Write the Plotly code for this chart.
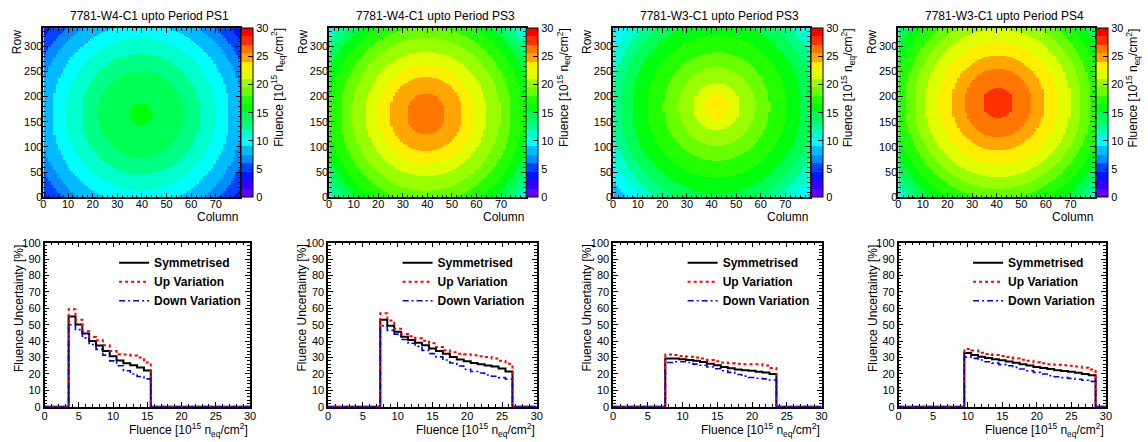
import colorsys
import numpy as np
import plotly.graph_objects as go

# ------------------------------------------------------------------ data
map_titles = ["7781-W4-C1 upto Period PS1", "7781-W4-C1 upto Period PS3",
              "7781-W3-C1 upto Period PS3", "7781-W3-C1 upto Period PS4"]
n_cols, n_rows = 80, 336
col_pitch_mm, row_pitch_mm = 0.25, 0.05

# beam-spot centre (column, row)
centre_col = [39.5, 39.5, 42.0, 40.5]
centre_row = [165, 165, 180, 187]

# fluence [1e15 neq/cm2] at distance [mm] from centre
radius_ps1_w4 = [0, 1.1, 4.3, 6.0, 7.6, 9.0, 10.4, 11.4, 12.5, 13.4]
fluence_ps1_w4 = [15.4, 15.0, 13.5, 12.0, 10.5, 9.0, 7.5, 6.0, 4.5, 3.7]
radius_ps3_w4 = [0, 2.0, 3.7, 4.9, 6.2, 7.6, 8.75, 9.9, 10.8, 11.6, 12.3, 12.9, 13.4]
fluence_ps3_w4 = [26.6, 25.5, 24.0, 22.5, 21.0, 19.5, 18.0, 16.5, 15.0, 13.5, 12.0, 10.5, 7.8]
radius_ps3_w3 = [0, 1.3, 2.35, 3.9, 5.4, 7.1, 8.6, 9.8, 10.8, 11.8, 12.8, 13.9]
fluence_ps3_w3 = [23.2, 22.5, 21.0, 19.5, 18.0, 16.5, 15.0, 13.5, 12.0, 10.5, 9.0, 7.6]
radius_ps4_w3 = [0, 1.5, 3.4, 4.7, 6.1, 7.4, 8.5, 9.5, 10.6, 11.5, 12.3, 13.0, 13.9]
fluence_ps4_w3 = [28.3, 27.0, 25.5, 24.0, 22.5, 21.0, 19.5, 18.0, 16.5, 15.0, 13.5, 12.0, 9.6]

map_radii = [radius_ps1_w4, radius_ps3_w4, radius_ps3_w3, radius_ps4_w3]
map_fluence = [fluence_ps1_w4, fluence_ps3_w4, fluence_ps3_w3, fluence_ps4_w3]

# uncertainty histograms: first non-empty bin centre, then bin contents [%]
first_bin = [4, 8, 8, 10]
sym_ps1_w4 = [55, 50.2, 44.7, 40.1, 37.4, 34, 30.8, 28.2, 26.6, 25.3, 23.9, 22.2]
up_ps1_w4 = [59.5, 53, 46, 42.5, 40.5, 37.5, 34, 32, 31.8, 31.3, 30, 27]
down_ps1_w4 = [50, 47, 42, 38, 35, 31.5, 28, 25, 22, 20, 18.5, 17]

sym_ps3_w4 = [53, 49.4, 45.7, 42.7, 40.7, 39.1, 37.5, 35.6, 34, 32.4, 30.4, 28.9, 27.7,
              26.7, 25.9, 25.1, 24.5, 23.3, 21.5]
up_ps3_w4 = [57, 52.6, 47.6, 44.3, 43, 41.7, 40.3, 38.7, 36.4, 34.4, 33.2, 32.4, 32,
             31.4, 30.8, 30.4, 29.4, 28, 26.3]
down_ps3_w4 = [49.4, 46.6, 44.3, 41, 38.7, 36.8, 34.4, 32.4, 30.4, 28.5, 26.7, 24.9, 22.9,
               21.5, 20.6, 19.4, 18.6, 17.8, 16.8]

sym_ps3_w3 = [29.4, 29.4, 29, 28.5, 28, 27.3, 26.3, 25.3, 24.3, 23.5, 22.8, 22.3, 21.9,
              21.4, 20.9, 20]
up_ps3_w3 = [31.8, 31.5, 31, 30.5, 30, 29.4, 28.5, 27.7, 27, 26.5, 26.2, 26, 26, 26,
             25.2, 23.7]
down_ps3_w3 = [27, 27.5, 27.5, 27, 26, 25.3, 24.3, 23.2, 22, 21, 19.7, 18.7, 17.9, 17.4,
               17, 16.3]

sym_ps4_w3 = [32.8, 31.5, 30.5, 29.8, 29, 28.4, 27.6, 26.8, 26, 25.1, 24.3, 23.6, 23,
              22.3, 21.8, 21.3, 20.7, 20, 19.2]
up_ps4_w3 = [35.3, 34.3, 33, 32.2, 31.5, 31, 30.3, 29.5, 28.7, 28, 27.2, 26.5, 26, 25.6,
             25.3, 25, 24.6, 23.8, 22.7]
down_ps4_w3 = [30.3, 29.5, 28.5, 27.5, 26.6, 25.7, 25, 24, 23, 22, 21, 20, 19, 18.3,
               17.8, 17.3, 16.8, 16.2, 15.5]

hist_sym = [sym_ps1_w4, sym_ps3_w4, sym_ps3_w3, sym_ps4_w3]
hist_up = [up_ps1_w4, up_ps3_w4, up_ps3_w3, up_ps4_w3]
hist_down = [down_ps1_w4, down_ps3_w4, down_ps3_w3, down_ps4_w3]
series_names = ["Symmetrised", "Up Variation", "Down Variation"]

map_xticks = [0, 10, 20, 30, 40, 50, 60, 70]
map_yticks = [0, 50, 100, 150, 200, 250, 300]

# ------------------------------------------------------------------ style / geometry
W, H = 1148, 442
FONT = "Liberation Sans, Arial, Helvetica, sans-serif"
map_x = [(40.7, 239.3), (328.7, 526.7), (615.0, 813.3), (902.3, 1100.7)]
map_y = (22.7, 196.7)
cbar_w = 12
hist_x = [(42.0, 249.0), (327.7, 538.0), (615.0, 825.0), (902.7, 1111.7)]
hist_y = (243.3, 412.0)
UNIT = "Fluence [10<sup>15</sup> n<sub>eq</sub>/cm<sup>2</sup>]"


def px(x):
    return x / W


def py(y):
    return 1 - y / H


# ROOT "pretty" palette, 20 contours between 0 and 30
n_cont, zmin, zmax = 20, 0.0, 30.0
colorscale = []
for k in range(n_cont):
    idx = min(int((k + 0.99) * 50 / n_cont), 49)
    hue = 280 - (idx + 1) * 5.6
    r, g, b = colorsys.hls_to_rgb(max(hue, 0) / 360.0, 0.5, 1.0)
    c = f"rgb({int(round(r*255))},{int(round(g*255))},{int(round(b*255))})"
    colorscale.append([k / n_cont, c])
    colorscale.append([(k + 1) / n_cont, c])

fig = go.Figure()
annotations = []
cols = np.arange(n_cols) + 0.5
rows = np.arange(n_rows) + 0.5


def text(t, x, y, xanchor="center", yanchor="middle", angle=0, size=12):
    return dict(text=t, x=px(x), y=py(y), xref="paper", yref="paper", showarrow=False,
                xanchor=xanchor, yanchor=yanchor, textangle=angle,
                font=dict(family=FONT, size=size, color="black"))


for i in range(4):
    dx = (cols[None, :] - centre_col[i]) * col_pitch_mm
    dy = (rows[:, None] - centre_row[i]) * row_pitch_mm
    dist = np.hypot(dx, dy)
    z = np.interp(dist, map_radii[i], map_fluence[i])
    xa = "x" if i == 0 else f"x{i+1}"
    ya = "y" if i == 0 else f"y{i+1}"
    x0, x1 = map_x[i]
    fig.add_trace(go.Heatmap(
        x=cols, y=rows, z=z, xaxis=xa, yaxis=ya,
        zmin=zmin, zmax=zmax, colorscale=colorscale, showscale=True,
        colorbar=dict(
            x=px(x1 + 0.7), xanchor="left", xpad=0, ypad=0,
            y=py((map_y[0] + map_y[1]) / 2), yanchor="middle",
            len=(map_y[1] - map_y[0]) / H, lenmode="fraction",
            thickness=cbar_w, thicknessmode="pixels",
            outlinewidth=1, outlinecolor="black",
            tickmode="linear", tick0=0, dtick=5, ticks="inside", ticklen=5,
            tickcolor="black", tickfont=dict(family=FONT, size=11, color="black"),
        ),
        hoverinfo="skip",
    ))
    annotations.append(text(map_titles[i], (x0 + x1) / 2 + 8, 10))
    annotations.append(text("Column", x1, 208, xanchor="right", yanchor="top"))
    annotations.append(text("Row", x0 - 26.5, map_y[0], yanchor="top", angle=-90))
    annotations.append(text(UNIT, x1 + 38, map_y[0] - 2, yanchor="top", angle=-90))

styles = [dict(color="black", width=2, dash="solid"),
          dict(color="red", width=2, dash="dot"),
          dict(color="blue", width=1.6, dash="6px,3px,2px,3px")]

for i in range(4):
    xa = f"x{i+5}"
    ya = f"y{i+5}"
    leg = "legend" if i == 0 else f"legend{i+1}"
    for s, vals in enumerate([hist_sym[i], hist_up[i], hist_down[i]]):
        lo = first_bin[i] - 0.5
        edges = [lo + j for j in range(len(vals) + 1)]
        xs = [0.0] + edges + [30.0]
        ys = [0.0] + list(vals) + [0.0, 0.0]
        fig.add_trace(go.Scatter(x=xs, y=ys, mode="lines", line_shape="hv",
                                 line=styles[s], name=series_names[s], xaxis=xa, yaxis=ya,
                                 legend=leg, showlegend=True, hoverinfo="skip"))
    x0, x1 = hist_x[i]
    annotations.append(text(UNIT, x1, 436, xanchor="right", yanchor="middle"))
    annotations.append(text("Fluence Uncertainty [%]", x0 - 26, hist_y[0], yanchor="top",
                            angle=-90))


def axis(domain, rng, anchor, dtick=None, minor_dtick=None, tickvals=None, ticklen=5,
         standoff=0):
    a = dict(domain=domain, range=rng, anchor=anchor, showgrid=False, zeroline=False,
             showline=True, linecolor="black", linewidth=1.5, mirror="allticks",
             ticks="inside", ticklen=ticklen, tickwidth=1, tickcolor="black",
             ticklabelstandoff=standoff,
             minor=dict(ticks="inside", ticklen=3, dtick=minor_dtick, tick0=0,
                        tickcolor="black", showgrid=False),
             tickfont=dict(family=FONT, size=11, color="black"), fixedrange=True)
    if tickvals is not None:
        a.update(tickmode="array", tickvals=tickvals)
    else:
        a.update(tickmode="linear", tick0=0, dtick=dtick)
    return a


layout = dict(width=W, height=H, margin=dict(l=0, r=0, t=0, b=0),
              paper_bgcolor="white", plot_bgcolor="white", annotations=annotations)

for i in range(4):
    n = "" if i == 0 else str(i + 1)
    x0, x1 = map_x[i]
    layout[f"xaxis{n}"] = axis([px(x0), px(x1)], [0, n_cols], f"y{n}",
                               minor_dtick=2, tickvals=map_xticks, standoff=-4)
    layout[f"yaxis{n}"] = axis([py(map_y[1]), py(map_y[0])], [0, n_rows], f"x{n}",
                               minor_dtick=10, tickvals=map_yticks, standoff=-3)
for i in range(4):
    n = str(i + 5)
    x0, x1 = hist_x[i]
    xa = axis([px(x0), px(x1)], [0, 30], f"y{n}", dtick=5, minor_dtick=1, standoff=-2)
    ya = axis([py(hist_y[1]), py(hist_y[0])], [0, 100], f"x{n}", dtick=10, minor_dtick=2)
    xa["layer"] = "below traces"
    ya["layer"] = "below traces"
    layout[f"xaxis{n}"] = xa
    layout[f"yaxis{n}"] = ya
    leg = "legend" if i == 0 else f"legend{i+1}"
    layout[leg] = dict(x=px(x0 + 70), y=py(249), xanchor="left", yanchor="top",
                       bgcolor="rgba(0,0,0,0)", borderwidth=0, itemwidth=30,
                       font=dict(family=FONT, size=12, color="black", weight="bold"),
                       tracegroupgap=0)

fig.update_layout(**layout)
fig.write_html("out.html", config={"displayModeBar": False},
               post_script="document.body.style.margin='0px';document.body.style.padding='0px';")
